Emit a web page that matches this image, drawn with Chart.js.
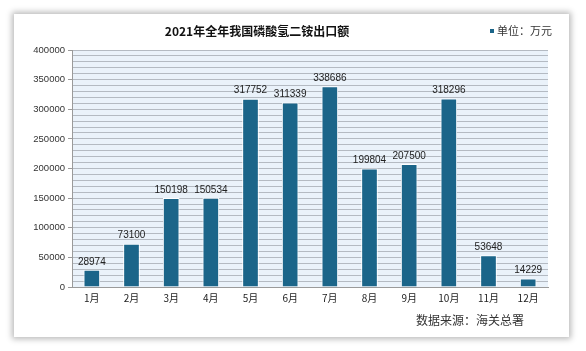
<!DOCTYPE html>
<html>
<head>
<meta charset="utf-8">
<script src="https://cdn.jsdelivr.net/npm/chart.js@4.4.0/dist/chart.umd.min.js"></script>
<style>
  html, body { margin: 0; padding: 0; background: #ffffff; }
  body { width: 586px; height: 351px; position: relative; overflow: hidden; }
  .card { position: absolute; left: 14px; top: 14px; width: 555px; height: 323px; background: #fff;
          box-shadow: 0 0 6px 2px rgba(0,0,0,0.28); }
  #myChart { position: absolute; left: 0; top: 0; }
</style>
</head>
<body>
<div class="card"></div>
<canvas id="myChart" width="586" height="351"></canvas>
<script>
// dados
var meses = ['1月','2月','3月','4月','5月','6月','7月','8月','9月','10月','11月','12月'];
var valores = [28974, 73100, 150198, 150534, 317752, 311339, 338686, 199804, 207500, 318296, 53648, 14229];
var titulo = '2021年全年我国磷酸氢二铵出口额';
var unidade = '单位：万元';
var fonte = '数据来源：海关总署';

var corBarra = '#1b6589';
var fonteCJK = '"Noto Sans CJK SC", "Noto Sans", sans-serif';
var fonteNum = '"Liberation Sans", Arial, sans-serif';

// fundo azul claro da area do grafico
var fundoPlugin = {
    id: 'fundo',
    beforeDraw: function(chart){
        var a = chart.chartArea;
        var c = chart.ctx;
        c.save();
        c.fillStyle = '#eaf2fa';
        c.fillRect(a.left, a.top, a.right - a.left, a.bottom - a.top);
        c.restore();
    }
};

// rotulos dos valores + titulo, legenda e fonte
var textosPlugin = {
    id: 'textos',
    afterDatasetsDraw: function(chart){
        var c = chart.ctx;
        var meta = chart.getDatasetMeta(0);
        c.save();
        c.fillStyle = '#222';
        c.font = '10px ' + fonteNum;
        c.textAlign = 'center';
        c.textBaseline = 'bottom';
        meta.data.forEach(function(bar, i){
            c.fillText(valores[i], bar.x, bar.y - 3);
        });

        c.textBaseline = 'middle';
        c.font = 'bold 12px ' + fonteCJK;
        c.fillStyle = '#111';
        c.fillText(titulo, 257, 31);

        c.fillStyle = corBarra;
        c.fillRect(490, 29, 4, 4);
        c.textAlign = 'left';
        c.font = '11px ' + fonteCJK;
        c.fillStyle = '#333';
        c.fillText(unidade, 497, 31);

        c.textAlign = 'center';
        c.font = '12px ' + fonteCJK;
        c.fillText(fonte, 470, 320);
        c.restore();
    }
};

const ctx = document.getElementById('myChart');

new Chart(ctx, {
    type: 'bar',
    data: {
        labels: meses,
        datasets: [{
            data: valores,
            backgroundColor: corBarra,
            borderColor: '#ffffff',
            borderWidth: 1,
            barPercentage: 0.42,
            categoryPercentage: 1
        }]
    },
    options: {
        responsive: false,
        animation: false,
        layout: { padding: { top: 50, right: 38, left: 0, bottom: 0 } },
        plugins: {
            legend: { display: false },
            tooltip: { enabled: false }
        },
        scales: {
            x: {
                grid: { display: false, drawTicks: false },
                border: { color: '#9a9a9a' },
                ticks: { color: '#222', font: { size: 10, family: fonteCJK }, padding: 5 },
                afterFit: function(s){ s.height = 64; }
            },
            y: {
                min: 0,
                max: 400000,
                border: { color: '#9a9a9a' },
                grid: {
                    color: '#b4bac2',
                    lineWidth: 1,
                    tickLength: 4,
                    tickColor: function(c){ return c.tick.value % 50000 === 0 ? '#9a9a9a' : 'rgba(0,0,0,0)'; }
                },
                ticks: {
                    stepSize: 10000,
                    autoSkip: false,
                    color: '#333',
                    padding: 3,
                    font: { size: 9.5, family: fonteNum },
                    callback: function(v){ return v % 50000 === 0 ? v : ''; }
                },
                afterFit: function(s){ s.width = 72; }
            }
        }
    },
    plugins: [fundoPlugin, textosPlugin]
});
</script>
</body>
</html>
